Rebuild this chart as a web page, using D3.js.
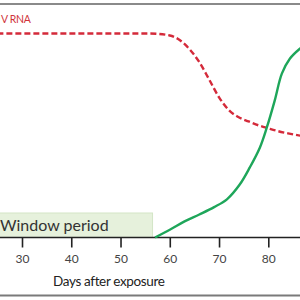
<!DOCTYPE html>
<html><head><meta charset="utf-8">
<script src="https://cdn.jsdelivr.net/npm/d3@7"></script>
<style>html,body{margin:0;padding:0;background:#fff;overflow:hidden}</style>
</head><body>
<svg id="c" width="300" height="300"></svg>
<script>
// Data (days after exposure, relative level 0-100)
const rnaDays   = [25, 30, 40, 50, 56, 60, 62, 64, 66, 68, 70, 72, 74, 76, 78, 80, 82, 84, 87];
const rnaValues = [94, 94, 94, 94, 94, 93.1, 91, 86.8, 80.8, 72.8, 64.6, 58.7, 55.4, 53.5, 51.7, 50.3, 49, 48, 46.7];
const abDays    = [57, 60, 63, 66, 69, 71.6, 74.2, 76.25, 78.3, 79.7, 81.3, 82.75, 84.4, 86.4, 87];
const abValues  = [0, 3.6, 7.4, 10.6, 14, 17.6, 24.4, 32.3, 41.5, 50.7, 63.1, 75.5, 82.5, 87, 88];
const tickDays  = [30, 40, 50, 60, 70, 80];
const windowStart = 20, windowEnd = 56.5;
const seriesLabel = "V RNA";
const windowLabel = "Window period";
const xTitle = "Days after exposure";

const svg = d3.select("#c");
const x = d3.scaleLinear().domain([30, 80]).range([22, 268.3]);
const y = d3.scaleLinear().domain([0, 100]).range([237.5, 20.5]);
const axisY = 237.5;
const font = "Lato, 'Open Sans', sans-serif";

// frame lines
svg.append("line").attr("x1",0).attr("x2",300).attr("y1",4).attr("y2",4)
  .attr("stroke","#8a8a8a").attr("stroke-width",2);
svg.append("line").attr("x1",0).attr("x2",300).attr("y1",295.5).attr("y2",295.5)
  .attr("stroke","#7a7a7a").attr("stroke-width",2);

// window period box
svg.append("rect").attr("x", x(windowStart)).attr("y", 213)
  .attr("width", x(windowEnd) - x(windowStart)).attr("height", axisY - 213)
  .attr("fill","#e6f1dc").attr("stroke","#d3e6c6").attr("stroke-width",1);
svg.append("text").attr("x", 0).attr("y", 231).text(windowLabel)
  .attr("font-family",font).attr("font-size",16)
  .attr("fill","#333");

// axis
const axis = d3.axisBottom(x).tickValues(tickDays).tickSize(10).tickSizeOuter(0).tickFormat(d3.format("d"));
const g = svg.append("g").attr("transform",`translate(0,${axisY})`).call(axis);
g.select(".domain").remove();
g.selectAll(".tick line").attr("stroke","#222").attr("stroke-width",1.6);
g.selectAll(".tick text").attr("font-family",font).attr("font-size",12)
  .attr("fill","#444").attr("dy","1.05em");
svg.append("line").attr("x1",0).attr("x2",300).attr("y1",axisY).attr("y2",axisY)
  .attr("stroke","#222").attr("stroke-width",1.6);

svg.append("text").attr("x", 53).attr("y", 286).text(xTitle)
  .attr("font-family",font).attr("font-size",13.5)
  .attr("letter-spacing","-0.35").attr("fill","#222");

// curves
const lineR = d3.line().x(d => x(d[0])).y(d => y(d[1])).curve(d3.curveMonotoneX);
const lineG = d3.line().x(d => x(d[0])).y(d => y(d[1])).curve(d3.curveCatmullRom.alpha(0.5));
svg.append("path").datum(d3.zip(rnaDays, rnaValues)).attr("d", lineR)
  .attr("fill","none").attr("stroke","#d42a3a").attr("stroke-width",2.4)
  .attr("stroke-dasharray","6,3");
svg.append("path").datum(d3.zip(abDays, abValues)).attr("d", lineG)
  .attr("fill","none").attr("stroke","#1ea65a").attr("stroke-width",2.4);

svg.append("text").attr("x", 1).attr("y", 23).text(seriesLabel)
  .attr("font-family",font).attr("font-size",10.5)
  .attr("letter-spacing","-0.3").attr("fill","#d0343a");
</script>
</body></html>
